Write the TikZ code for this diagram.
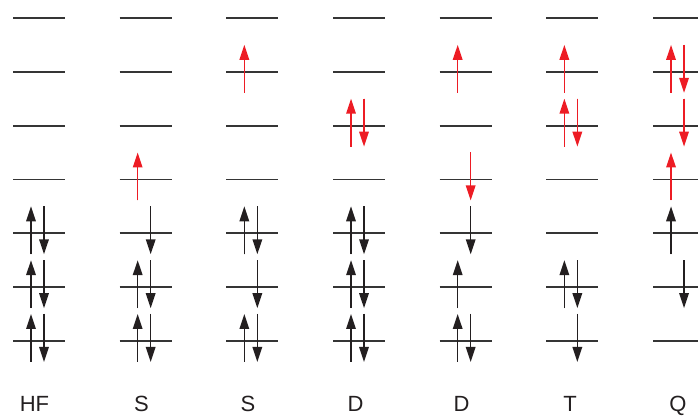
\documentclass[tikz,border=0pt]{standalone}
\usepackage{fontspec}
\setmainfont{Liberation Sans}
\usetikzlibrary{arrows.meta}
\definecolor{spinred}{HTML}{ED1C24}
\definecolor{spinblack}{HTML}{231F20}
\definecolor{levelgray}{HTML}{353535}
\newcommand{\spinUp}[3]{\draw[spin,draw=#3,fill=#3] ({39+106.67*(#1-1)-8},{18+53.83*(#2-1)+21}) -- ++(0,-48);}
\newcommand{\spinDn}[3]{\draw[spin,draw=#3,fill=#3] ({39+106.67*(#1-1)+5},{18+53.83*(#2-1)-27}) -- ++(0,48);}
\begin{document}
\begin{tikzpicture}[x=1pt,y=-1pt,
  levelline/.style={draw=levelgray,line width=1.8pt},
  spin/.style={line width=1.6pt,-{Triangle[length=15pt,width=9.5pt]}},
  lab/.style={anchor=base,inner sep=0pt,font=\fontsize{22}{26}\selectfont,text=spinblack}]
\useasboundingbox (0,0) rectangle (698,415);
\begin{scope}
\clip (0,0) rectangle (698,415);
\foreach \c in {1,...,7}{
  \foreach \l in {1,...,7}{
    \draw[levelline] ({39+106.67*(\c-1)-26},{18+53.83*(\l-1)}) -- ++(52,0);
  }
}
% HF
\spinUp{1}{5}{spinblack}\spinDn{1}{5}{spinblack}
\spinUp{1}{6}{spinblack}\spinDn{1}{6}{spinblack}
\spinUp{1}{7}{spinblack}\spinDn{1}{7}{spinblack}
% S
\spinUp{2}{4}{spinred}
\spinDn{2}{5}{spinblack}
\spinUp{2}{6}{spinblack}\spinDn{2}{6}{spinblack}
\spinUp{2}{7}{spinblack}\spinDn{2}{7}{spinblack}
% S
\spinUp{3}{2}{spinred}
\spinUp{3}{5}{spinblack}\spinDn{3}{5}{spinblack}
\spinDn{3}{6}{spinblack}
\spinUp{3}{7}{spinblack}\spinDn{3}{7}{spinblack}
% D
\spinUp{4}{3}{spinred}\spinDn{4}{3}{spinred}
\spinUp{4}{5}{spinblack}\spinDn{4}{5}{spinblack}
\spinUp{4}{6}{spinblack}\spinDn{4}{6}{spinblack}
\spinUp{4}{7}{spinblack}\spinDn{4}{7}{spinblack}
% D
\spinUp{5}{2}{spinred}
\spinDn{5}{4}{spinred}
\spinDn{5}{5}{spinblack}
\spinUp{5}{6}{spinblack}
\spinUp{5}{7}{spinblack}\spinDn{5}{7}{spinblack}
% T
\spinUp{6}{2}{spinred}
\spinUp{6}{3}{spinred}\spinDn{6}{3}{spinred}
\spinUp{6}{6}{spinblack}\spinDn{6}{6}{spinblack}
\spinDn{6}{7}{spinblack}
% Q
\spinUp{7}{2}{spinred}\spinDn{7}{2}{spinred}
\spinDn{7}{3}{spinred}
\spinUp{7}{4}{spinred}
\spinUp{7}{5}{spinblack}
\spinDn{7}{6}{spinblack}
\end{scope}
\node[lab] (lHF) at (34.5,411.5) {HF};
\node[lab] (lS1) at (141.5,411.5) {S};
\node[lab] (lS2) at (248,411.5) {S};
\node[lab] (lD1) at (355.5,411.5) {D};
\node[lab] (lD2) at (461.5,411.5) {D};
\node[lab] (lT) at (570,411.5) {T};
\node[lab] (lQ) at (678,411.5) {Q};
\end{tikzpicture}
\end{document}
